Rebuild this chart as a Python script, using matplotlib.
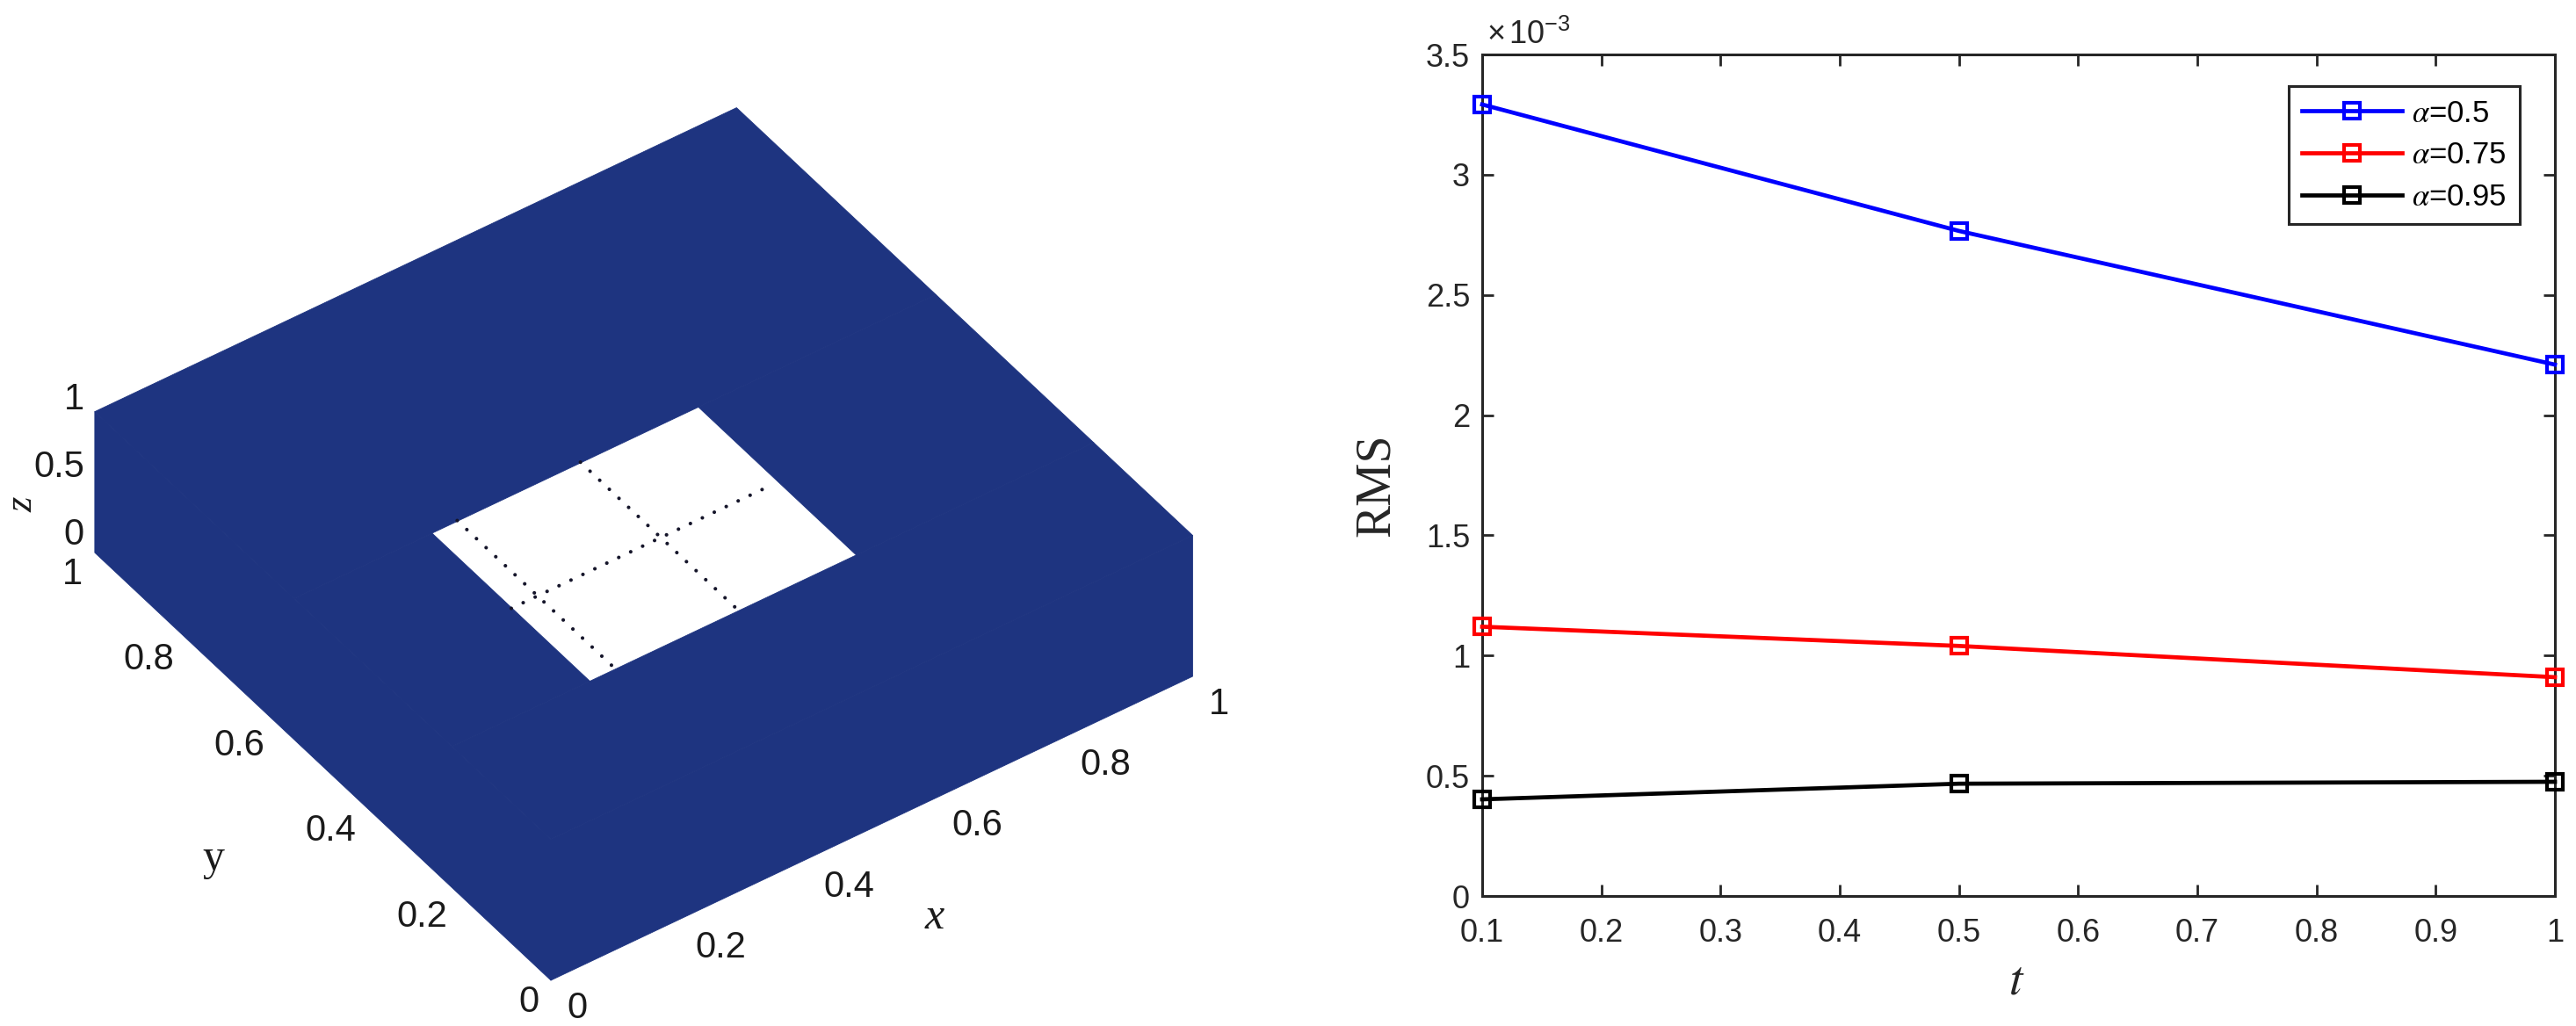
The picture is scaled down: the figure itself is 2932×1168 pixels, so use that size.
import numpy as np
import matplotlib
matplotlib.use("Agg")
import matplotlib.pyplot as plt
from mpl_toolkits.mplot3d import proj3d
from mpl_toolkits.mplot3d.art3d import Poly3DCollection

plt.rcParams["font.family"] = ["Liberation Sans", "DejaVu Sans"]
plt.rcParams["mathtext.fontset"] = "stix"

# left panel: domain with a square hole
hole_x = [0.215, 0.63]
hole_y = [0.217, 0.563]
cross_x = [0.255, 0.447]
cross_x_span = [0.226, 0.567]
cross_y = [0.388]
cross_y_span = [0.214, 0.622]
tick_xy = [0, 0.2, 0.4, 0.6, 0.8, 1]
tick_z = [0, 0.5, 1]

# right panel
t = [0.1, 0.5, 1.0]
rms_05 = [3.292, 2.766, 2.21]
rms_075 = [1.12, 1.04, 0.91]
rms_095 = [0.402, 0.467, 0.475]
x_ticks = [0.1, 0.2, 0.3, 0.4, 0.5, 0.6, 0.7, 0.8, 0.9, 1.0]
x_tick_labels = ["0.1", "0.2", "0.3", "0.4", "0.5", "0.6", "0.7", "0.8", "0.9", "1"]
y_ticks = [0, 0.5, 1, 1.5, 2, 2.5, 3, 3.5]
y_tick_labels = ["0", "0.5", "1", "1.5", "2", "2.5", "3", "3.5"]

W, H = 2932, 1168
fig = plt.figure(figsize=(W / 200, H / 200), dpi=200)

NAVY = "#1e3480"
TXT = "#262626"

ax3 = fig.add_axes([0, 0, 0.5, 1], projection="3d", proj_type="ortho", computed_zorder=False)
ax3.view_init(elev=41.8, azim=-125.4)
ax3.set_xlim(0, 1)
ax3.set_ylim(0, 1)
ax3.set_zlim(0, 1)
ax3.set_box_aspect((895, 895, 215), zoom=1)
ax3.set_axis_off()
ax3.patch.set_alpha(0)

x0, x1 = hole_x
y0, y1 = hole_y
faces = [
    [(0, 0, 1), (1, 0, 1), (1, y0, 1), (0, y0, 1)],
    [(0, y1, 1), (1, y1, 1), (1, 1, 1), (0, 1, 1)],
    [(0, y0, 1), (x0, y0, 1), (x0, y1, 1), (0, y1, 1)],
    [(x1, y0, 1), (1, y0, 1), (1, y1, 1), (x1, y1, 1)],
    [(0, 0, 0), (1, 0, 0), (1, 0, 1), (0, 0, 1)],
    [(0, 0, 0), (0, 1, 0), (0, 1, 1), (0, 0, 1)],
]
poly = Poly3DCollection(faces, facecolor=NAVY, edgecolor=NAVY, linewidth=0.3, zorder=1)
ax3.add_collection3d(poly)
poly.set_clip_on(False)

dots = dict(color="#15152a", lw=1.5, linestyle=(0, (0.01, 3.6)), dash_capstyle="round", zorder=3, clip_on=False)
for cx in cross_x:
    ax3.plot([cx, cx], cross_x_span, [1, 1], **dots)
for cy in cross_y:
    ax3.plot(cross_y_span, [cy, cy], [1, 1], **dots)

# fit the projection onto the wanted pixels
def to_px(p):
    xs, ys, _ = proj3d.proj_transform(p[0], p[1], p[2], ax3.get_proj())
    return ax3.transData.transform((xs, ys))

fig.canvas.draw()
span = np.hypot(*(to_px((1, 0, 0)) - to_px((0, 0, 0))))
ax3.set_box_aspect((895, 895, 215), zoom=np.hypot(730, 347) / span)
fig.canvas.draw()
shift = np.array([627, H - 1116]) - to_px((0, 0, 0))
pos = ax3.get_position(original=True)
ax3.set_position([pos.x0 + shift[0] / W, pos.y0 + shift[1] / H, pos.width, pos.height])
fig.canvas.draw()

def label3d(p, dx, dy, s, ha):
    px = to_px(p)
    fig.text((px[0] + dx) / W, (px[1] - dy) / H, s, fontsize=15, color="#1a1a1a", ha=ha, va="center")

for v in tick_xy:
    label3d((v, 0, 0), 18, 32, f"{v:g}", "left")
    label3d((0, v, 0), -14, 25, f"{v:g}", "right")
for v in tick_z:
    label3d((0, 1, v), -12, -20 + 6 * v, f"{v:g}", "right")

fig.text(25 / W, 1 - 574 / H, "z", family="Liberation Serif", style="italic", fontsize=16,
         rotation=90, ha="center", va="center", color="#1a1a1a")
fig.text(243 / W, 1 - 978 / H, "y", family="Liberation Serif", fontsize=18,
         ha="center", va="center", color="#1a1a1a")
fig.text(1064 / W, 1 - 1045 / H, "x", family="Liberation Serif", style="italic", fontsize=18,
         ha="center", va="center", color="#1a1a1a")

# right panel
ax = fig.add_axes([1687 / W, 1 - 1020 / H, (2908 - 1687) / W, (1020 - 62) / H])
style = dict(marker="s", ms=6.2, mew=1.5, mfc="none", lw=1.7, clip_on=False, zorder=3)
ax.plot(t, rms_05, color="#0000ff", label=r"$\alpha$=0.5", **style)
ax.plot(t, rms_075, color="#ff0000", label=r"$\alpha$=0.75", **style)
ax.plot(t, rms_095, color="#000000", label=r"$\alpha$=0.95", **style)
ax.set_xlim(0.1, 1)
ax.set_ylim(0, 3.5)
ax.set_xticks(x_ticks)
ax.set_xticklabels(x_tick_labels)
ax.set_yticks(y_ticks)
ax.set_yticklabels(y_tick_labels)
ax.tick_params(direction="in", top=True, right=True, length=4.7, width=1.0, labelsize=13,
               colors=TXT)
ax.tick_params(axis="x", pad=9)
ax.tick_params(axis="y", pad=5)
for s in ax.spines.values():
    s.set_linewidth(1.1)
    s.set_color(TXT)

ax.text(0.004, 1.004, r"$\mathregular{\times\,10^{-3}}$", transform=ax.transAxes, fontsize=13,
        color=TXT, ha="left", va="bottom")
fig.text(1567 / W, 1 - 552 / H, "RMS", family="Liberation Serif", fontsize=20, rotation=90,
         ha="center", va="center", color=TXT)
fig.text(2295 / W, 1 - 1118 / H, "$t$", fontsize=20, ha="center", va="center", color=TXT)

leg = ax.legend(loc="upper left", bbox_to_anchor=((2605 - 1687) / (2908 - 1687), 1 - (98 - 62) / 958),
                borderaxespad=0, fontsize=12.5, fancybox=False, framealpha=1, edgecolor=TXT,
                handlelength=3.3, handletextpad=0.32, labelspacing=0.42, borderpad=0.42)
leg.get_frame().set_linewidth(1.1)
for text in leg.get_texts():
    text.set_color("black")

fig.savefig("out.png", dpi=200, facecolor="white")
